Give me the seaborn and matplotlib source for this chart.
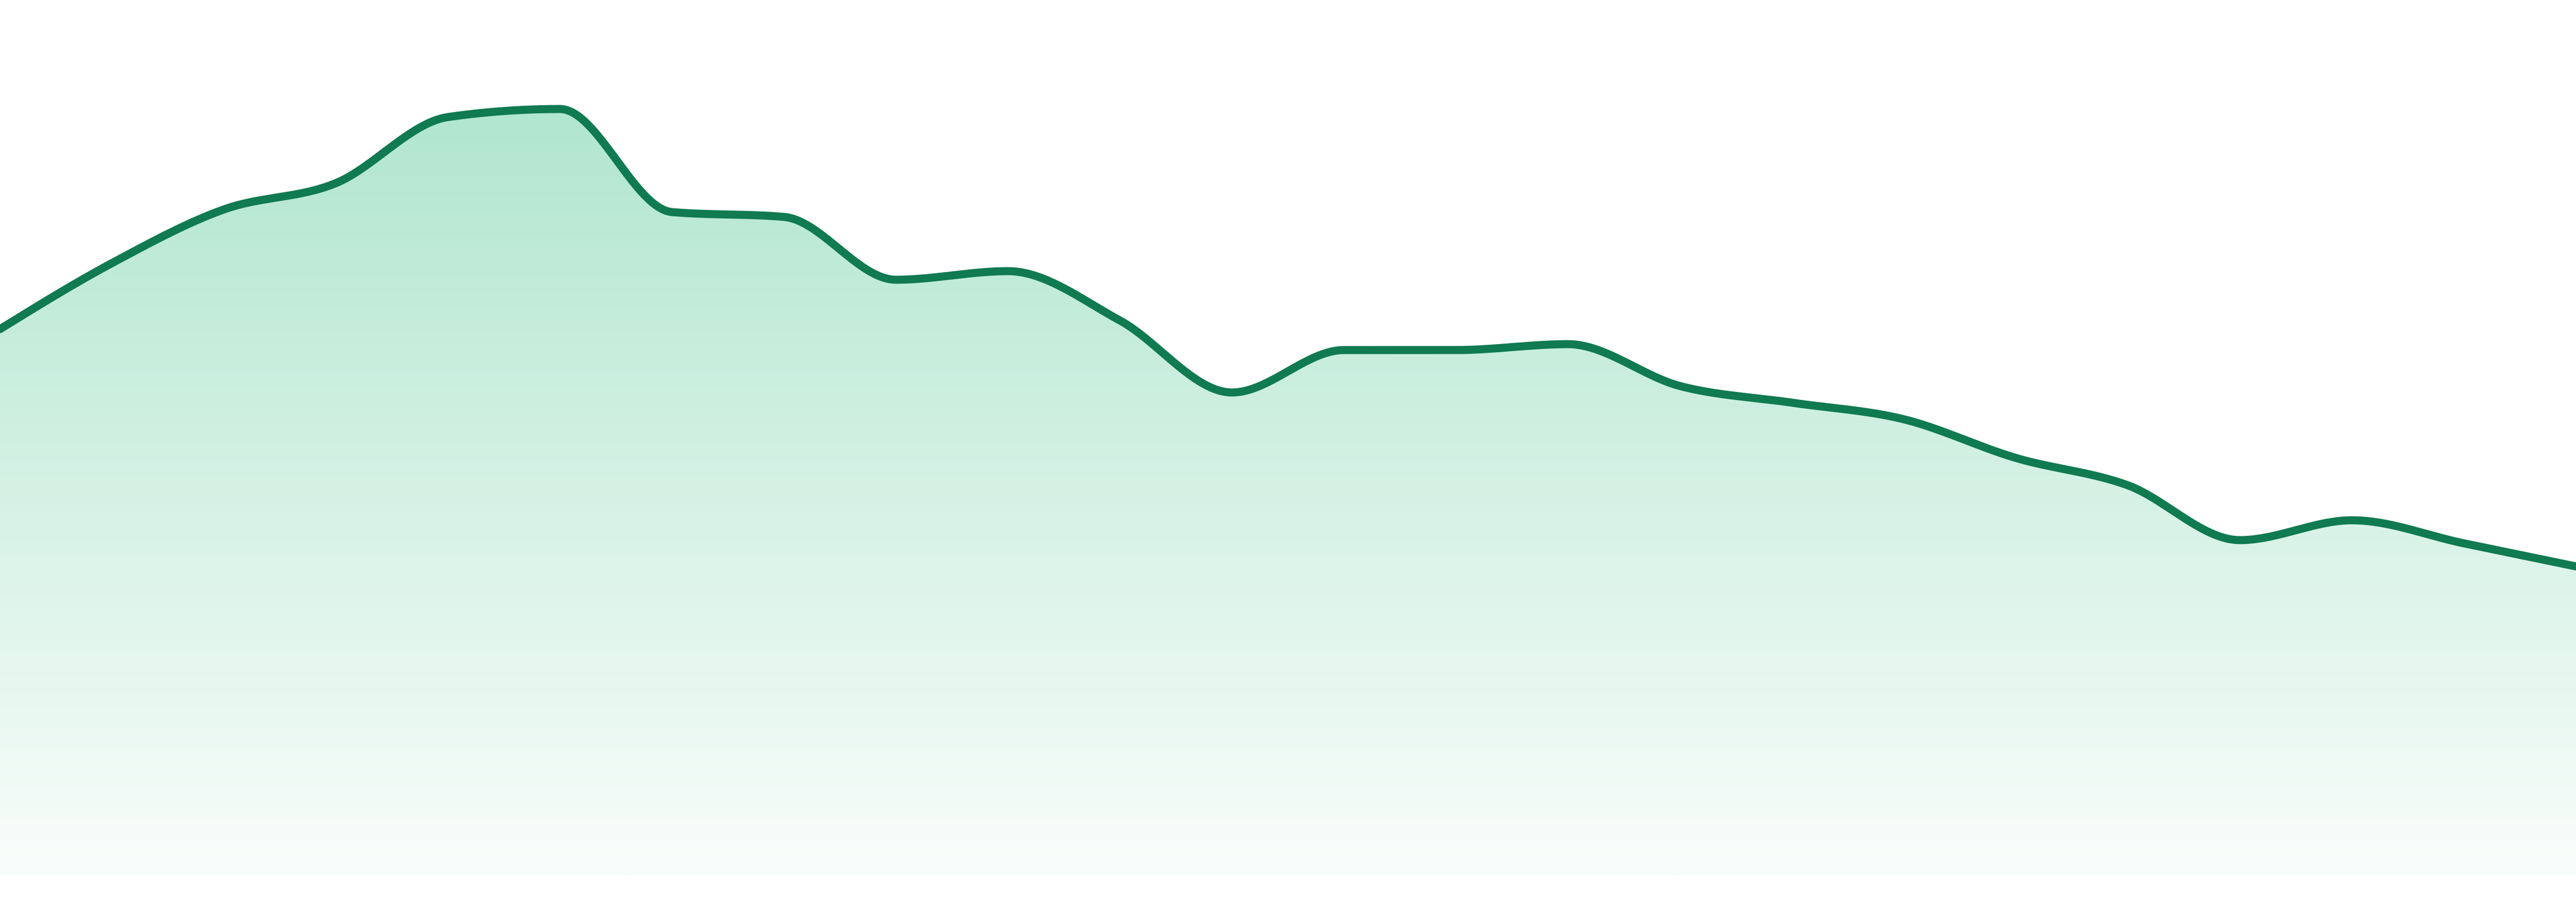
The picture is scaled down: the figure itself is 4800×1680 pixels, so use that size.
import matplotlib
matplotlib.use("Agg")
import matplotlib.pyplot as plt
from matplotlib.colors import to_rgb
from matplotlib.patches import Polygon
import seaborn as sns
import numpy as np
import pandas as pd

# values, height above the baseline of the area
steps = list(range(24))
values = [101.7, 114.0, 124.0, 128.9, 141.2, 142.7, 123.5, 122.6,
          110.9, 112.5, 103.3, 89.9, 97.8, 97.8, 98.9, 91.1,
          88.0, 84.9, 77.7, 72.6, 62.4, 66.1, 61.8, 57.5]

line_color = "#107a50"
fill_top = "#b1e6cf"
fill_bottom = "#f9fdfb"


def monotone_curve(x, y, n=40):
    # same idea as d3.curveMonotoneX: hermite pieces with limited tangents
    x = np.asarray(x, float)
    y = np.asarray(y, float)
    h = np.diff(x)
    s = np.diff(y) / h
    t = np.zeros_like(y)
    for i in range(1, len(x) - 1):
        p = (s[i - 1] * h[i] + s[i] * h[i - 1]) / (h[i - 1] + h[i])
        t[i] = (np.sign(s[i - 1]) + np.sign(s[i])) * min(abs(s[i - 1]), abs(s[i]), 0.5 * abs(p))
    t[0] = (3 * s[0] - t[1]) / 2
    t[-1] = (3 * s[-1] - t[-2]) / 2
    xs, ys = [], []
    for i in range(len(x) - 1):
        u = np.linspace(0, 1, n, endpoint=(i == len(x) - 2))
        h00 = 2 * u**3 - 3 * u**2 + 1
        h10 = u**3 - 2 * u**2 + u
        h01 = -2 * u**3 + 3 * u**2
        h11 = u**3 - u**2
        xs.append(x[i] + u * h[i])
        ys.append(h00 * y[i] + h10 * h[i] * t[i] + h01 * y[i + 1] + h11 * h[i] * t[i + 1])
    return np.concatenate(xs), np.concatenate(ys)


xf, yf = monotone_curve(steps, values)
curve = pd.DataFrame({"step": xf, "value": yf})

sns.set_style("white")
fig = plt.figure(figsize=(16, 5.6), dpi=300)
ax = fig.add_axes([0, 0, 1, 1])
ax.set_xlim(0, 23)
ax.set_ylim(-5, 163)
ax.axis("off")

# gradient under the line, clipped to the area shape
base = 0
top = max(values)
c0 = np.array(to_rgb(fill_top))
c1 = np.array(to_rgb(fill_bottom))
k = np.linspace(0, 1, 256)[:, None]
grad = (c0 * (1 - k) + c1 * k)[:, None, :]
area = Polygon(np.column_stack([np.r_[xf, xf[-1], xf[0]], np.r_[yf, base, base]]),
               closed=True, facecolor="none", edgecolor="none")
ax.add_patch(area)
im = ax.imshow(grad, extent=(0, 23, base, top), origin="upper", aspect="auto",
               interpolation="bilinear", zorder=1)
im.set_clip_path(area)

sns.lineplot(data=curve, x="step", y="value", color=line_color, linewidth=3.6,
             sort=False, estimator=None, ax=ax, zorder=3)
ax.set_xlim(0, 23)
ax.set_ylim(-5, 163)

fig.savefig("out.png", dpi=300, facecolor="white")
